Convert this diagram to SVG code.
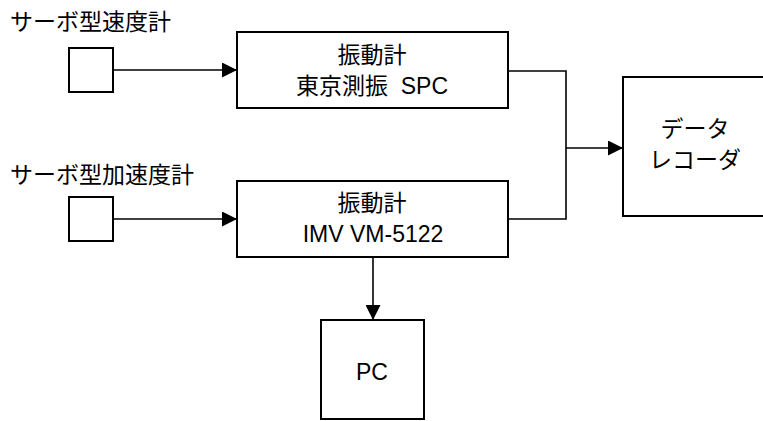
<svg xmlns="http://www.w3.org/2000/svg" width="763" height="421" viewBox="0 0 763 421">
<style>
.box{fill:#fff;stroke:#000;stroke-width:2}
.t{font-family:"Liberation Sans","Noto Sans CJK JP",sans-serif;font-size:23px;fill:#000}
.c{text-anchor:middle}
.ln{fill:none;stroke:#000;stroke-width:1.6}
</style>
<defs>
<marker id="ah" markerWidth="15" markerHeight="15" refX="15" refY="7.5" orient="auto" markerUnits="userSpaceOnUse">
<path d="M0,0 L15,7.5 L0,15 Z" fill="#000"/>
</marker>
</defs>
<g id="connectors">
<line class="ln" x1="113" y1="70" x2="237" y2="70" marker-end="url(#ah)"/>
<line class="ln" x1="113" y1="219" x2="237" y2="219" marker-end="url(#ah)"/>
<polyline class="ln" points="508,71 566,71 566,219 508,219"/>
<line class="ln" x1="566" y1="148" x2="623" y2="148" marker-end="url(#ah)"/>
<line class="ln" x1="373" y1="257" x2="373" y2="320" marker-end="url(#ah)"/>
</g>
<g id="sensor1">
<text class="t" x="10" y="30">サーボ型速度計</text>
<rect class="box" x="69" y="48" width="44" height="44"/>
</g>
<g id="sensor2">
<text class="t" x="10" y="183">サーボ型加速度計</text>
<rect class="box" x="69" y="197" width="44" height="44"/>
</g>
<g id="vib1">
<rect class="box" x="237" y="32" width="271" height="76"/>
<text class="t c" x="372" y="63">振動計</text>
<text class="t c" x="372" y="94">東京測振&#160; SPC</text>
</g>
<g id="vib2">
<rect class="box" x="237" y="181" width="271" height="76"/>
<text class="t c" x="372" y="211">振動計</text>
<text class="t c" x="373" y="242">IMV VM-5122</text>
</g>
<g id="recorder">
<rect class="box" x="623" y="77" width="145" height="139"/>
<text class="t c" x="695" y="137">データ</text>
<text class="t c" x="695" y="168">レコーダ</text>
</g>
<g id="pc">
<rect class="box" x="321" y="320" width="103" height="99"/>
<text class="t c" x="372" y="380">PC</text>
</g>
</svg>
